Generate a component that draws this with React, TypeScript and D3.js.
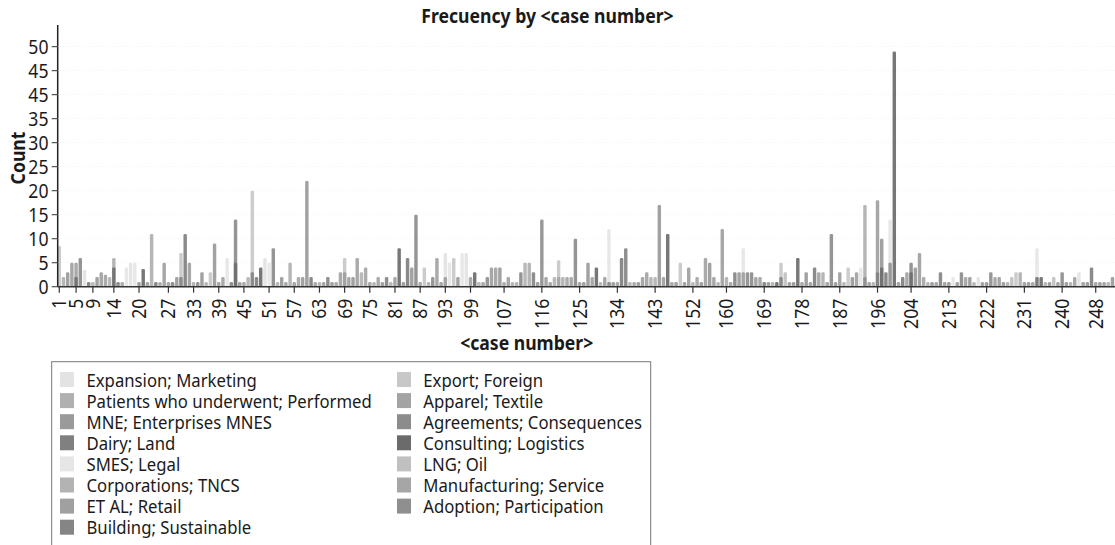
import React from 'react';
import * as d3 from 'd3';

const categories = [
  'Expansion; Marketing',
  'Patients who underwent; Performed',
  'MNE; Enterprises MNES',
  'Dairy; Land',
  'SMES; Legal',
  'Corporations; TNCS',
  'ET AL; Retail',
  'Building; Sustainable',
  'Export; Foreign',
  'Apparel; Textile',
  'Agreements; Consequences',
  'Consulting; Logistics',
  'LNG; Oil',
  'Manufacturing; Service',
  'Adoption; Participation',
];

const categoryColors = [
  '#e3e3e3', '#b0b0b0', '#9a9a9a', '#808080', '#e6e6e6', '#b3b3b3', '#a0a0a0', '#858585',
  '#c8c8c8', '#a3a3a3', '#8c8c8c', '#6b6b6b', '#c0c0c0', '#a6a6a6', '#8f8f8f',
];

const caseNumbers = d3.range(1, 253);

const caseValues = [
  8.5, 2, 3, 5, 5, 6, 3.5, 1, 1, 2,
  3, 2.5, 2, 6, 1, 1, 4, 5, 5, 1,
  3.7, 1, 11, 1, 1, 5, 1, 1, 2, 7,
  11, 5, 1, 1, 3, 1, 3, 9, 1, 2,
  6, 1, 14, 1, 1, 2, 20, 2, 4, 6,
  5, 8, 1, 2, 1, 5, 1, 2, 2, 22,
  2, 1, 1, 1, 2, 1, 1, 3, 6, 2,
  2, 6, 3, 4, 1, 1, 2, 1, 2, 1,
  2, 8, 1, 6, 4, 15, 1, 4, 1, 2,
  6, 1, 7, 5, 6, 2, 7, 7, 2, 3,
  1, 1, 2, 4, 4, 4, 1, 2, 1, 1,
  3, 5, 5, 3, 1, 14, 2, 1, 2, 5.5,
  2, 2, 2, 10, 1, 1, 5, 2, 4, 1,
  2, 12, 1, 1, 6, 8, 1, 1, 1, 2,
  3, 2, 2, 17, 2, 11, 1, 1, 5, 1,
  4, 1, 2, 1, 6, 5, 2, 1, 12, 2,
  1, 3, 3, 8, 3, 3, 2, 2, 1, 1,
  1, 1, 5, 3, 1, 1, 6, 1, 3, 1,
  4, 3, 3, 1, 11, 1, 3, 1, 4, 2,
  3, 4, 17, 1, 1, 18, 10, 3, 14, 49,
  1, 2, 3, 5, 4, 7, 2, 1, 1, 1,
  3, 1, 1, 2, 1, 3, 2, 2, 1, 2,
  1, 1, 3, 2, 2, 1, 1, 2, 3, 3,
  1, 1, 1, 8, 2, 1, 1, 2, 1, 3,
  1, 1, 2, 3, 1, 1, 4, 1, 1, 1,
  1, 2,
];

const caseCategory = [
  8, 1, 2, 6, 9, 10, 0, 3, 5, 2,
  6, 9, 5, 1, 7, 13, 4, 0, 4, 2,
  11, 6, 1, 3, 13, 6, 9, 7, 2, 8,
  3, 6, 1, 14, 2, 5, 8, 2, 6, 9,
  4, 7, 10, 2, 9, 5, 8, 3, 11, 0,
  4, 10, 5, 2, 9, 1, 6, 13, 2, 2,
  3, 9, 5, 6, 7, 2, 13, 9, 8, 6,
  2, 9, 5, 13, 6, 1, 9, 2, 7, 5,
  6, 11, 2, 3, 2, 10, 9, 8, 5, 14,
  9, 6, 0, 4, 8, 2, 4, 0, 9, 11,
  5, 9, 14, 6, 9, 2, 13, 6, 5, 1,
  10, 5, 1, 7, 2, 14, 6, 9, 5, 8,
  1, 13, 9, 10, 6, 2, 2, 9, 11, 5,
  6, 4, 2, 9, 3, 7, 5, 13, 2, 6,
  9, 1, 5, 2, 6, 11, 9, 2, 8, 6,
  6, 5, 13, 2, 9, 2, 6, 5, 6, 1,
  9, 7, 2, 4, 14, 10, 6, 9, 3, 2,
  5, 11, 8, 12, 6, 2, 11, 9, 2, 6,
  3, 9, 1, 6, 10, 2, 6, 5, 8, 2,
  9, 4, 1, 6, 5, 6, 2, 3, 4, 11,
  6, 3, 9, 10, 2, 6, 13, 5, 2, 9,
  7, 6, 2, 4, 6, 10, 9, 2, 5, 0,
  6, 2, 14, 9, 6, 2, 5, 12, 8, 1,
  6, 2, 9, 4, 11, 5, 2, 12, 6, 10,
  2, 5, 9, 0, 6, 2, 3, 9, 2, 6,
  5, 2,
];

// darker bars overlapping the base of some taller bars
const overlayCases = [5, 14, 30, 43, 47, 69, 93, 120, 132, 164, 173, 193, 196, 197, 199, 204, 234];
const overlayValues = [2, 4, 2, 5, 3, 3, 2, 2, 1, 3, 2, 2, 3, 4, 5, 3, 2];
const overlayCategory = [11, 11, 3, 11, 3, 2, 2, 6, 3, 2, 3, 10, 3, 11, 10, 11, 11];

const xTickCases = [1, 5, 9, 14, 20, 27, 33, 39, 45, 51, 57, 63, 69, 75, 81, 87, 93, 99, 107, 116, 125, 134, 143, 152, 160, 169, 178, 187, 196, 204, 213, 222, 231, 240, 248];
const yTickValues = [0, 5, 10, 15, 20, 25, 30, 35, 40, 45, 50];
const yTickLabels = ['0', '5', '10', '15', '20', '25', '30', '35', '45', '45', '50'];

const W = 1115;
const H = 545;
const FONT = "'Noto Sans', 'Open Sans', sans-serif";
const SX = 0.88;
const AXIS_X = 57.7;
const AXIS_Y = 286.7;

export default function App() {
  const x = d3.scaleBand<number>().domain(caseNumbers).range([57.2, 57.2 + 4.196 * caseNumbers.length]).paddingInner(0.18).paddingOuter(0.09);
  const y = d3.scaleLinear().domain([0, 54.5]).range([AXIS_Y, 25]);
  const bw = x.bandwidth();
  const xc = (c: number) => (x(c) as number) + bw / 2;

  const bars = caseNumbers.map((c, i) => ({ c, v: caseValues[i], k: caseCategory[i] }));
  const overlays = overlayCases.map((c, i) => ({ c, v: overlayValues[i], k: overlayCategory[i] }));

  const legendCol1 = categories.slice(0, 8);
  const legendCol2 = categories.slice(8);

  return (
    <svg width={W} height={H} style={{ position: 'absolute', left: 0, top: 0, background: '#fff' }} fontFamily={FONT}>
      <rect x={0} y={0} width={W} height={H} fill="#fff" />
      {/* title */}
      <text transform={`translate(547.5,22.7) scale(${SX},1)`} textAnchor="middle" fontSize={20} fontWeight="bold" fill="#1a1a1a">
        Frecuency by &lt;case number&gt;
      </text>

      {/* bars */}
      <g>
        {bars.map((b) => (
          <rect key={`b${b.c}`} x={x(b.c)} y={y(b.v)} width={bw} height={AXIS_Y - y(b.v)} rx={1.3}
            fill={categoryColors[b.k]} fillOpacity={0.92} />
        ))}
        {overlays.map((b) => (
          <rect key={`o${b.c}`} x={x(b.c)} y={y(b.v)} width={bw} height={AXIS_Y - y(b.v)} rx={1.3}
            fill={categoryColors[b.k]} fillOpacity={0.85} />
        ))}
      </g>

      {/* faint gridlines over bars */}
      <g>
        {yTickValues.slice(1).map((v) => (
          <line key={`g${v}`} x1={AXIS_X} x2={W} y1={y(v)} y2={y(v)} stroke="#000" strokeOpacity={0.06} strokeDasharray="1,2" />
        ))}
      </g>

      {/* y axis */}
      <line x1={AXIS_X} x2={AXIS_X} y1={25} y2={AXIS_Y} stroke="#222" strokeWidth={1.5} />
      {yTickValues.map((v, i) => (
        <g key={`yt${v}`}>
          <line x1={51.7} x2={AXIS_X} y1={y(v)} y2={y(v)} stroke="#555" strokeWidth={1.2} />
          <text transform={`translate(48.5,${y(v)}) scale(${SX},1)`} dy="0.35em" textAnchor="end" fontSize={20} fill="#1a1a1a">
            {yTickLabels[i]}
          </text>
        </g>
      ))}
      <text transform={`translate(25,158) rotate(-90) scale(${SX},1)`} textAnchor="middle" fontSize={20} fontWeight="bold" fill="#1a1a1a">
        Count
      </text>

      {/* x axis */}
      <line x1={AXIS_X} x2={W} y1={AXIS_Y} y2={AXIS_Y} stroke="#333" strokeWidth={1.6} />
      {xTickCases.map((c) => (
        <g key={`xt${c}`}>
          <line x1={xc(c)} x2={xc(c)} y1={AXIS_Y} y2={AXIS_Y + 6} stroke="#333" strokeWidth={1.2} />
          <text transform={`translate(${xc(c)},${AXIS_Y + 12}) rotate(-90) scale(${SX},1)`} dy="0.35em" textAnchor="end" fontSize={20} fill="#1a1a1a">
            {String(c)}
          </text>
        </g>
      ))}
      <text transform={`translate(526.7,350) scale(${SX},1)`} textAnchor="middle" fontSize={20} fontWeight="bold" fill="#1a1a1a">
        &lt;case number&gt;
      </text>

      {/* legend */}
      <rect x={51.7} y={361.7} width={599} height={240} fill="#fff" stroke="#777" strokeWidth={1} />
      {legendCol1.map((name, i) => (
        <g key={`l1${i}`}>
          <rect x={60} y={372 + i * 21.1} width={14} height={15} fill={categoryColors[i]} />
          <text transform={`translate(86.5,${386.7 + i * 21.1}) scale(${SX},1)`} fontSize={19} fill="#1a1a1a">{name}</text>
        </g>
      ))}
      {legendCol2.map((name, i) => (
        <g key={`l2${i}`}>
          <rect x={397} y={372 + i * 21.1} width={14} height={15} fill={categoryColors[i + 8]} />
          <text transform={`translate(423.3,${386.7 + i * 21.1}) scale(${SX},1)`} fontSize={19} fill="#1a1a1a">{name}</text>
        </g>
      ))}
    </svg>
  );
}
